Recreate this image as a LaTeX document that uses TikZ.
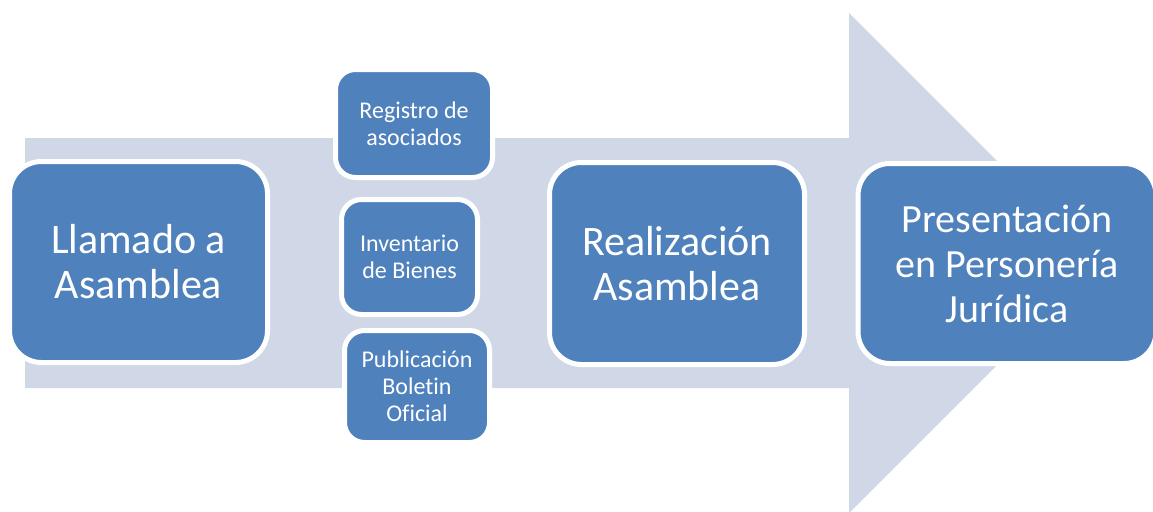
\documentclass[tikz,border=0pt]{standalone}
\usepackage{fontspec}
\setmainfont[Ligatures=NoCommon]{Carlito}
\definecolor{boxblue}{HTML}{4F81BD}
\definecolor{arrowgray}{HTML}{D0D8E8}
\begin{document}
\begin{tikzpicture}[x=1pt,y=-1pt,
  bigbox/.style={draw=white,line width=5pt,fill=boxblue,rounded corners=32pt,
    text=white,align=center,inner sep=0pt,
    font=\fontsize{42}{45}\selectfont},
  smallbox/.style={draw=white,line width=5pt,fill=boxblue,rounded corners=20pt,
    text=white,align=center,inner sep=0pt,
    font=\fontsize{24}{27}\selectfont}]
\useasboundingbox (0,0) rectangle (1153,511);
\begin{scope}
\clip (0,0) rectangle (1153,511);
\fill[arrowgray] (25,138) -- (849,138) -- (849,13) -- (1099,263) -- (849,513)
  -- (849,388) -- (25,388) -- cycle;
\node[bigbox,minimum width=258pt,minimum height=201pt] (llamado) at (138.5,262)
  {Llamado a\\Asamblea};
\node[smallbox,minimum width=157pt,minimum height=108pt] (registro) at (414,123.5)
  {Registro de\\asociados};
\node[smallbox,minimum width=136pt,minimum height=115pt] (inventario) at (409.5,257)
  {Inventario\\de Bienes};
\node[smallbox,minimum width=145pt,minimum height=112pt] (publicacion) at (417,386.5)
  {Publicación\\Boletin\\Oficial};
\node[bigbox,minimum width=255pt,minimum height=202pt] (realizacion) at (677,263.5)
  {Realización\\Asamblea};
\node[bigbox,minimum width=298pt,minimum height=200pt,
  font=\fontsize{40}{45}\selectfont] (presentacion) at (1007,263.5)
  {Presentación\\en Personería\\Jurídica};
\end{scope}
\end{tikzpicture}
\end{document}
